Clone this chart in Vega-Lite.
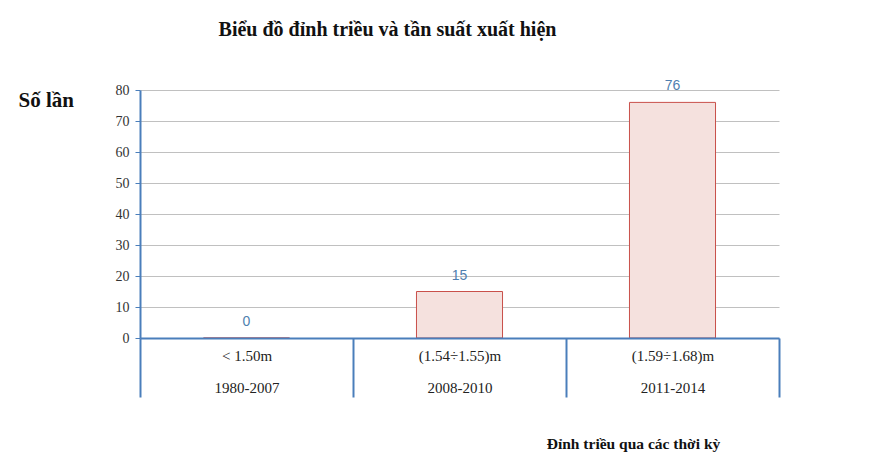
{
  "$schema": "https://vega.github.io/schema/vega-lite/v6.json",
  "width": 639,
  "height": 248,
  "autosize": "none",
  "padding": {"left": 140, "top": 90, "right": 110, "bottom": 133},
  "background": "white",
  "title": {
    "text": "Biểu đồ đỉnh triều và tần suất xuất hiện",
    "font": "Liberation Serif",
    "fontSize": 20,
    "fontWeight": "bold",
    "color": "#111111",
    "anchor": "middle",
    "frame": "group",
    "dx": -72,
    "offset": 39
  },
  "data": {
    "values": [
      {"ky": "< 1.50m|1980-2007", "solan": 0},
      {"ky": "(1.54÷1.55)m|2008-2010", "solan": 15},
      {"ky": "(1.59÷1.68)m|2011-2014", "solan": 76}
    ]
  },
  "config": {
    "view": {"stroke": null}
  },
  "encoding": {
    "x": {
      "field": "ky",
      "type": "nominal",
      "sort": null,
      "scale": {"type": "band", "paddingInner": 0, "paddingOuter": 0},
      "axis": {
        "zindex": 1,
        "title": "Đỉnh triều qua các thời kỳ",
        "titleFont": "Liberation Serif",
        "titleFontSize": 15.5,
        "titleFontWeight": "bold",
        "titleColor": "#111111",
        "titleX": 493,
        "titleY": 105,
        "titleAlign": "center",
        "titleBaseline": "middle",
        "domainColor": "#4a7ebb",
        "domainWidth": 2,
        "tickColor": "#4a7ebb",
        "tickWidth": 2,
        "tickSize": 59,
        "tickBand": "extent",
        "labelAngle": 0,
        "labelFont": "Liberation Serif",
        "labelFontSize": 15,
        "labelColor": "#222222",
        "labelPadding": -49,
        "labelBaseline": "top",
        "labelLineHeight": 32,
        "labelExpr": "split(datum.label, '|')"
      }
    },
    "y": {
      "field": "solan",
      "type": "quantitative",
      "scale": {"domain": [0, 80]},
      "axis": {
        "title": "Số lần",
        "titleAngle": 0,
        "titleFont": "Liberation Serif",
        "titleFontSize": 21,
        "titleFontWeight": "bold",
        "titleColor": "#111111",
        "titleX": -122,
        "titleY": 10,
        "titleAlign": "left",
        "titleBaseline": "middle",
        "values": [0, 10, 20, 30, 40, 50, 60, 70, 80],
        "domainColor": "#4a7ebb",
        "domainWidth": 2,
        "tickColor": "#4a7ebb",
        "tickSize": 5,
        "labelFont": "Liberation Serif",
        "labelFontSize": 14,
        "labelColor": "#333333",
        "labelPadding": 6,
        "grid": true,
        "gridColor": "#c0c0c0",
        "gridWidth": 1
      }
    }
  },
  "layer": [
    {
      "mark": {"type": "bar", "width": {"band": 0.404}, "fill": "#f5e1de", "stroke": "#c9504a", "strokeWidth": 1}
    },
    {
      "mark": {"type": "text", "baseline": "middle", "dy": -16, "font": "Liberation Sans", "fontSize": 14, "color": "#4f7fb0"},
      "encoding": {"text": {"field": "solan", "type": "quantitative"}}
    }
  ]
}
